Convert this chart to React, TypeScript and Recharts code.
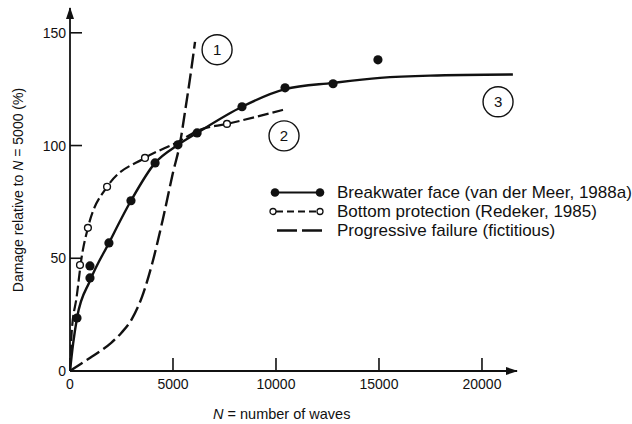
import React from 'react';
import { ComposedChart, Line, Scatter, XAxis, YAxis, ReferenceDot, Legend } from 'recharts';

// ---- data ----
const xTicks = [0, 5000, 10000, 15000, 20000];
const yTicks = [0, 50, 100, 150];

// Fitted curve 3: breakwater face
const breakwaterCurveN = [0, 150, 340, 970, 1890, 2960, 4130, 5240, 6170, 8350, 10440, 12770, 15050, 17480, 21500];
const breakwaterCurveD = [0, 12, 23.5, 40, 56.8, 75.5, 92.3, 100.3, 105.6, 117.2, 125, 127.8, 130, 131, 131.5];

// Measured points: breakwater face (van der Meer, 1988a)
const breakwaterPtsN = [340, 970, 970, 1890, 2960, 4130, 5240, 6170, 8350, 10440, 12770, 14950];
const breakwaterPtsD = [23.5, 46.6, 41.3, 56.8, 75.5, 92.3, 100.3, 105.6, 117.2, 125.6, 127.4, 138];

// Fitted curve 2: bottom protection
const bottomCurveN = [0, 80, 325, 570, 870, 1800, 3640, 5240, 6310, 7620, 10340];
const bottomCurveD = [0, 16.9, 33, 50.7, 63.5, 81.7, 94.5, 101.6, 107, 109.6, 115.8];

// Measured points: bottom protection (Redeker, 1985)
const bottomPtsN = [485, 870, 1800, 3640, 7620];
const bottomPtsD = [47, 63.5, 81.7, 94.5, 109.6];

// Curve 1: progressive failure (fictitious)
const progressiveN = [0, 500, 1000, 1500, 2000, 2500, 3000, 3500, 4000, 4500, 5000, 5340, 5600, 5830, 6070];
const progressiveD = [0, 3, 6, 9, 12.5, 17, 23, 33, 48, 67, 88, 101, 116, 130, 146];

// Circled curve numbers
const markerLabels = ['1', '2', '3'];
const markerN = [7140, 10390, 20780];
const markerD = [142.5, 104.3, 119.4];

const legendLabels = [
  'Breakwater face (van der Meer, 1988a)',
  'Bottom protection (Redeker, 1985)',
  'Progressive failure (fictitious)',
];

const zip = (ns: number[], ds: number[]) => ns.map((n, i) => ({ n, d: ds[i] }));

const breakwaterCurve = zip(breakwaterCurveN, breakwaterCurveD);
const breakwaterPts = zip(breakwaterPtsN, breakwaterPtsD);
const bottomCurve = zip(bottomCurveN, bottomCurveD);
const bottomPts = zip(bottomPtsN, bottomPtsD);
const progressive = zip(progressiveN, progressiveD);

const FONT = '"Liberation Sans", Arial, Helvetica, sans-serif';
const INK = '#111';

const XTick = (props: any) => {
  const { x, y, payload } = props;
  return (
    <g>
      <line x1={x} x2={x} y1={y} y2={y - 13} stroke={INK} strokeWidth={1.6} />
      <text x={x} y={y + 18} textAnchor="middle" fontSize={14} fontFamily={FONT} fill={INK}>
        {payload.value}
      </text>
    </g>
  );
};

const YTick = (props: any) => {
  const { x, y, payload } = props;
  return (
    <g>
      <line x1={x} x2={x + 12} y1={y} y2={y} stroke={INK} strokeWidth={1.6} />
      <text x={x - 4} y={y + 5} textAnchor="end" fontSize={14} fontFamily={FONT} fill={INK}>
        {payload.value}
      </text>
    </g>
  );
};

const XTitle = (props: any) => {
  const vb = props.viewBox || { x: 70, y: 371 };
  return (
    <text x={vb.x + 143} y={vb.y + 48} fontSize={14.5} fontFamily={FONT} fill={INK}>
      <tspan fontStyle="italic">N</tspan>
      <tspan> = number of waves</tspan>
    </text>
  );
};

const YTitle = () => (
  <text
    x={23}
    y={190}
    transform="rotate(-90 23 190)"
    textAnchor="middle"
    fontSize={14}
    fontFamily={FONT}
    fill={INK}
  >
    <tspan>Damage relative to </tspan>
    <tspan fontStyle="italic">N</tspan>
    <tspan> = 5000 (%)</tspan>
  </text>
);

const FilledDot = (props: any) => <circle cx={props.cx} cy={props.cy} r={4.6} fill={INK} />;
const OpenDot = (props: any) => (
  <circle cx={props.cx} cy={props.cy} r={3.4} fill="#fff" stroke={INK} strokeWidth={1.4} />
);

const LegendContent = () => (
  <div style={{ fontFamily: FONT, fontSize: 17, color: INK, lineHeight: '19px' }}>
    {legendLabels.map((label, i) => (
      <div key={label} style={{ display: 'flex', alignItems: 'center', height: 19 }}>
        <svg width={69} height={19} style={{ flex: 'none' }}>
          {i === 0 && (
            <g>
              <line x1={7} x2={52} y1={9.5} y2={9.5} stroke={INK} strokeWidth={2.2} />
              <circle cx={7} cy={9.5} r={4.3} fill={INK} />
              <circle cx={52} cy={9.5} r={4.3} fill={INK} />
            </g>
          )}
          {i === 1 && (
            <g>
              <line x1={8} x2={49} y1={9.5} y2={9.5} stroke={INK} strokeWidth={2} strokeDasharray="7 4" />
              <circle cx={5} cy={9.5} r={3} fill="#fff" stroke={INK} strokeWidth={1.3} />
              <circle cx={52} cy={9.5} r={3} fill="#fff" stroke={INK} strokeWidth={1.3} />
            </g>
          )}
          {i === 2 && (
            <line x1={9} x2={54} y1={9.5} y2={9.5} stroke={INK} strokeWidth={2.4} strokeDasharray="20 5" />
          )}
        </svg>
        <span style={{ whiteSpace: 'nowrap' }}>{label}</span>
      </div>
    ))}
  </div>
);

export default function App() {
  return (
    <div style={{ position: 'absolute', left: 0, top: 0, width: 632, height: 424, background: '#fff' }}>
      <ComposedChart
        width={632}
        height={424}
        margin={{ top: 8, right: 115, bottom: 0, left: 0 }}
      >
        <defs>
          <marker
            id="axisArrow"
            markerWidth={12}
            markerHeight={8}
            refX={11}
            refY={4}
            orient="auto-start-reverse"
            markerUnits="userSpaceOnUse"
          >
            <path d="M0,0 L12,4 L0,8 Z" fill={INK} />
          </marker>
        </defs>
        <XAxis
          type="number"
          dataKey="n"
          domain={[0, 21700]}
          ticks={xTicks}
          interval={0}
          height={53}
          tickSize={0}
          tickMargin={0}
          tick={<XTick />}
          axisLine={{ stroke: INK, strokeWidth: 1.8, markerEnd: 'url(#axisArrow)' } as any}
          label={{ content: <XTitle /> } as any}
          allowDataOverflow
        />
        <YAxis
          type="number"
          dataKey="d"
          domain={[0, 161]}
          ticks={yTicks}
          interval={0}
          width={70}
          tickSize={0}
          tickMargin={0}
          tick={<YTick />}
          axisLine={{ stroke: INK, strokeWidth: 1.8, markerStart: 'url(#axisArrow)' } as any}
          label={{ content: <YTitle /> } as any}
          allowDataOverflow
        />
        <Legend
          layout="horizontal"
          verticalAlign="middle"
          align="center"
          content={<LegendContent />}
          wrapperStyle={{ left: 268, top: 183, width: 364 }}
        />
        <Line
          data={progressive}
          dataKey="d"
          type="monotone"
          stroke={INK}
          strokeWidth={2.4}
          strokeDasharray="15 5"
          dot={false}
          activeDot={false}
          isAnimationActive={false}
          legendType="none"
        />
        <Line
          data={bottomCurve}
          dataKey="d"
          type="monotone"
          stroke={INK}
          strokeWidth={2.2}
          strokeDasharray="11 4"
          dot={false}
          activeDot={false}
          isAnimationActive={false}
          legendType="none"
        />
        <Line
          data={breakwaterCurve}
          dataKey="d"
          type="monotone"
          stroke={INK}
          strokeWidth={2.4}
          dot={false}
          activeDot={false}
          isAnimationActive={false}
          legendType="none"
        />
        <Scatter data={bottomPts} dataKey="d" shape={<OpenDot />} isAnimationActive={false} legendType="none" />
        <Scatter data={breakwaterPts} dataKey="d" shape={<FilledDot />} isAnimationActive={false} legendType="none" />
        {markerLabels.map((lab, i) => (
          <ReferenceDot
            key={lab}
            x={markerN[i]}
            y={markerD[i]}
            r={15}
            fill="#fff"
            stroke={INK}
            strokeWidth={1.4}
            label={{ value: lab, position: 'center', fontSize: 15, fontFamily: FONT, fill: INK }}
          />
        ))}
      </ComposedChart>
    </div>
  );
}
